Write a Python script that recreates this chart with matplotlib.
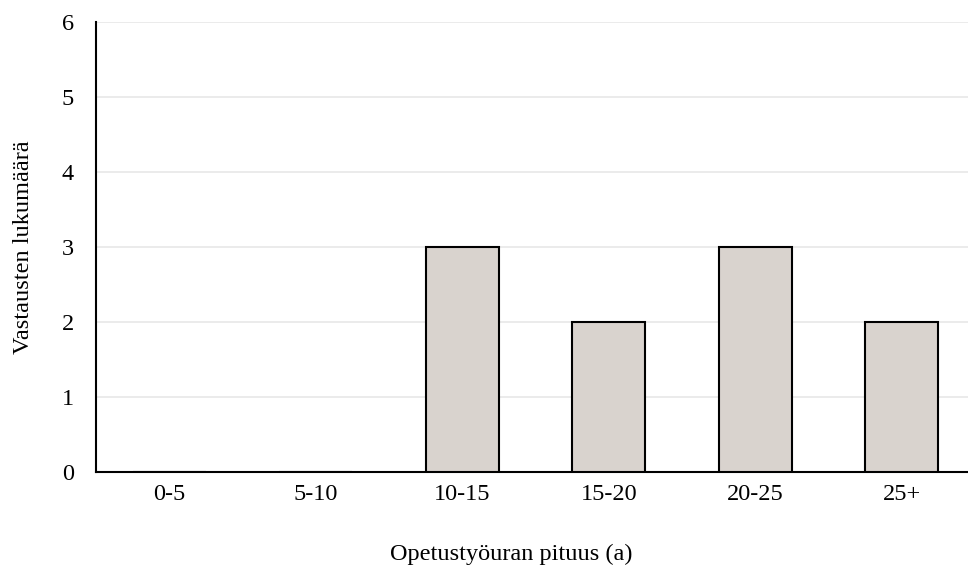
import matplotlib.pyplot as plt

categories = ["0-5", "5-10", "10-15", "15-20", "20-25", "25+"]
counts = [0, 0, 3, 2, 3, 2]

plt.rcParams["font.family"] = ["Liberation Serif", "DejaVu Serif"]

fig = plt.figure(figsize=(9.68, 5.75), dpi=100)
ax = fig.add_axes([96 / 968, 103 / 575, 879 / 968, 450 / 575])

x = range(len(categories))
ax.bar(x, counts, width=0.5, color="#d9d3ce", edgecolor="black", linewidth=1.5, zorder=3)

ax.set_xlim(-0.5, len(categories) - 0.5)
ax.set_ylim(0, 6)
ax.set_yticks(range(0, 7))
ax.set_xticks(list(x))
ax.set_xticklabels(categories)
ax.grid(axis="y", color="#e8e8e8", linewidth=1.2, zorder=0)

for side in ("top", "right"):
    ax.spines[side].set_visible(False)
ax.spines["left"].set_linewidth(1.5)
ax.spines["bottom"].set_linewidth(1.5)
ax.tick_params(axis="both", length=0, labelsize=17.5)
ax.tick_params(axis="x", pad=9)
ax.tick_params(axis="y", pad=16)

ax.set_xlabel("Opetustyöuran pituus (a)", fontsize=17.5)
ax.xaxis.set_label_coords(0.472, -0.16)
ax.set_ylabel("Vastausten lukumäärä", fontsize=17.5, labelpad=20)

fig.savefig("out.png", dpi=100)
